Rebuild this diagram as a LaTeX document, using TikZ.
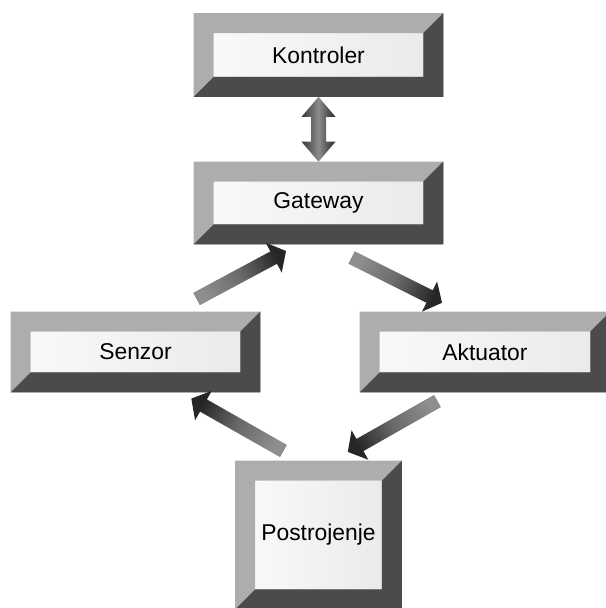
\documentclass[tikz,border=0pt]{standalone}
\usepackage{fontspec}
\setmainfont{Liberation Sans}
\usetikzlibrary{calc}
\definecolor{bvLight}{HTML}{ADADAD}
\definecolor{bvDark}{HTML}{4B4B4B}
\definecolor{arTail}{HTML}{8E8E8E}
\definecolor{arMid}{HTML}{6A6A6A}
\definecolor{arHead}{HTML}{262626}
\tikzset{
  panel/.style={rectangle,inner sep=0pt,left color=gray!5,right color=gray!16,
    font=\fontsize{13}{15}\selectfont},
}

\begin{document}
\begin{tikzpicture}[x=0.02cm,y=-0.02cm]
  \useasboundingbox (0,0) rectangle (605,608);
  \node[panel,minimum width=4.18cm,minimum height=0.86cm] (kontroler) at (318.5,55) {Kontroler};
  \node[panel,minimum width=4.18cm,minimum height=0.84cm] (gateway) at (318.5,203) {Gateway};
  \node[panel,minimum width=4.18cm,minimum height=0.8cm] (senzor) at (135.5,352) {Senzor};
  \node[panel,minimum width=4.2cm,minimum height=0.8cm] (aktuator) at (485,352) {Aktuator};
  \node[panel,minimum width=2.52cm,minimum height=2.16cm] (postrojenje) at (318.5,535) {Postrojenje};
  \foreach \b in {kontroler,gateway,senzor,aktuator,postrojenje}{
    \fill[bvLight,even odd rule] ([shift={(-20,-20)}]\b.north west) rectangle ([shift={(20,20)}]\b.south east)
      (\b.north west) rectangle (\b.south east);
    \fill[bvDark] ([shift={(20,-20)}]\b.north east) -- ([shift={(20,20)}]\b.south east)
      -- ([shift={(-20,20)}]\b.south west) -- (\b.south west) -- (\b.south east) -- (\b.north east) -- cycle;
  }

  \coordinate (kg-a) at ([shift={(0,20)}]kontroler.south);
  \coordinate (kg-b) at ([shift={(0,-20)}]gateway.north);
  \coordinate (kg-ha) at ($(kg-a)!0.4cm!(kg-b)$);
  \coordinate (kg-hb) at ($(kg-b)!0.4cm!(kg-a)$);
  \shade[left color=black!78,right color=black!85,middle color=black!45]
    (kg-a) -- ($(kg-ha)!0.34cm!90:(kg-b)$) -- ($(kg-ha)!0.15cm!90:(kg-b)$)
    -- ($(kg-hb)!0.15cm!-90:(kg-a)$) -- ($(kg-hb)!0.34cm!-90:(kg-a)$) -- (kg-b)
    -- ($(kg-hb)!0.34cm!90:(kg-a)$) -- ($(kg-hb)!0.15cm!90:(kg-a)$)
    -- ($(kg-ha)!0.15cm!-90:(kg-b)$) -- ($(kg-ha)!0.34cm!-90:(kg-b)$) -- cycle;

  \coordinate (sg-tail) at (196.5,299);
  \coordinate (sg-tip) at (286,251);
  \coordinate (ga-tail) at (351.5,257.5);
  \coordinate (ga-tip) at (442,302.8);
  \coordinate (ps-tail) at (283.5,451);
  \coordinate (ps-tip) at (191.3,398.6);
  \coordinate (ap-tail) at (437.5,401);
  \coordinate (ap-tip) at (347.8,451.9);
  \foreach \from/\to/\ang in {sg-tail/sg-tip/-62,ga-tail/ga-tip/-116.6,ps-tail/ps-tip/60.5,ap-tail/ap-tip/119.7}{
    \coordinate (hb) at ($(\to)!0.28cm!(\from)$);
    \shade[bottom color=arTail,top color=arHead,middle color=arMid,shading angle=\ang]
      ($(\from)!0.14cm!90:(\to)$) -- ($(hb)!0.14cm!-90:(\from)$) -- ($(hb)!0.34cm!-90:(\from)$)
      -- (\to) -- ($(hb)!0.34cm!90:(\from)$) -- ($(hb)!0.14cm!90:(\from)$)
      -- ($(\from)!0.14cm!-90:(\to)$) -- cycle;
  }
\end{tikzpicture}
\end{document}
